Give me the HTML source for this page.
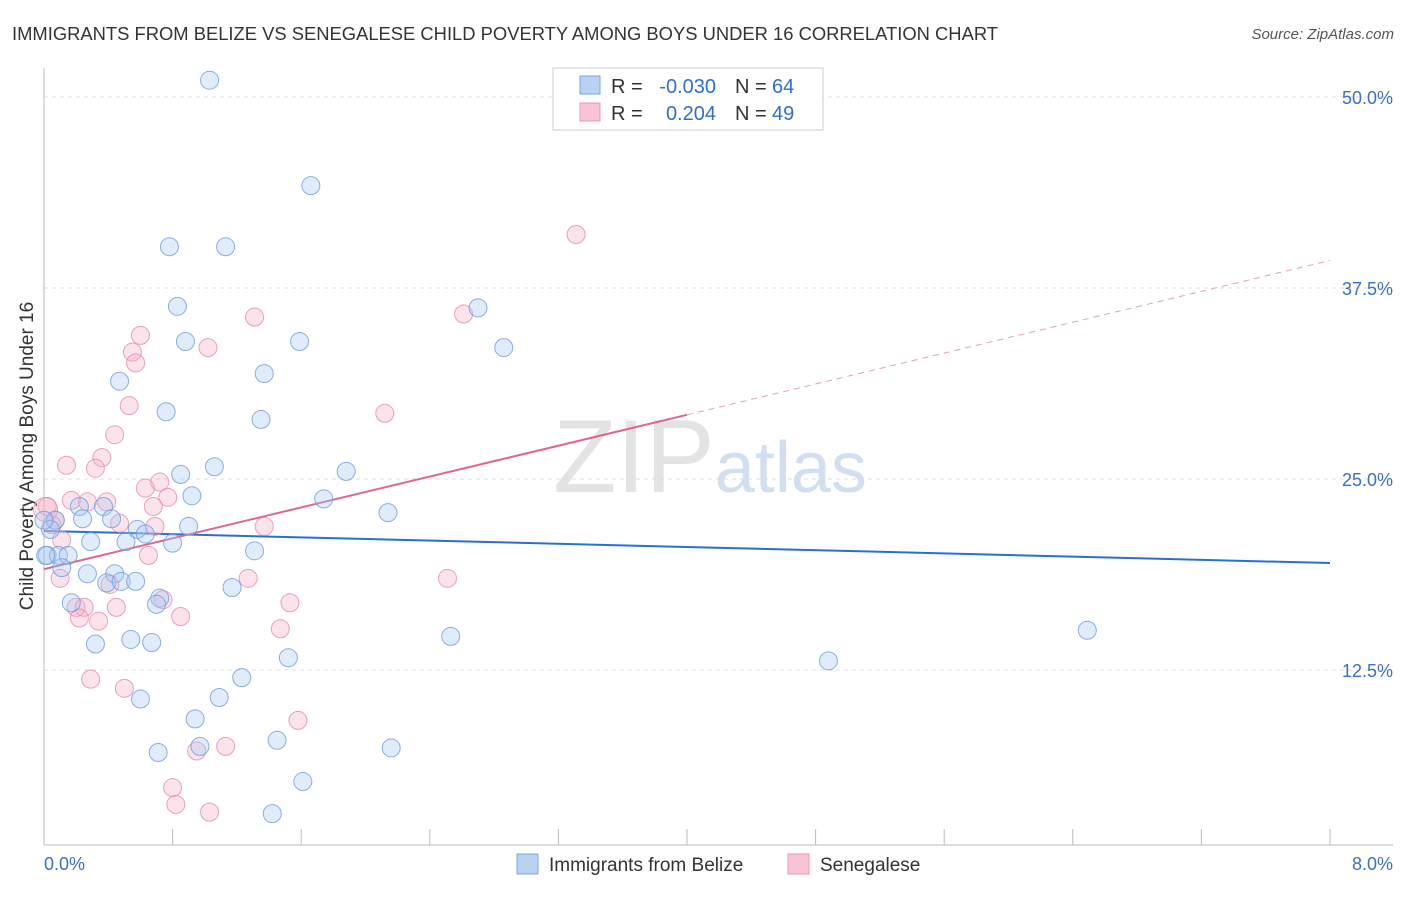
<!DOCTYPE html>
<html><head><meta charset="utf-8"><style>
body{margin:0;background:#fff;font-family:"Liberation Sans",sans-serif;}
svg text{font-family:"Liberation Sans",sans-serif;}
</style></head><body>
<svg id="c" width="1406" height="892" xmlns="http://www.w3.org/2000/svg">
<text x="12" y="40" font-size="18" fill="#333" textLength="986" lengthAdjust="spacingAndGlyphs">IMMIGRANTS FROM BELIZE VS SENEGALESE CHILD POVERTY AMONG BOYS UNDER 16 CORRELATION CHART</text>
<text x="1394" y="39" font-size="15" fill="#555" font-style="italic" text-anchor="end">Source: ZipAtlas.com</text>
<text x="553" y="492" font-size="104" fill="#ddd" font-family="Liberation Serif" opacity="0.8">ZIP<tspan fill="#c8d8ee" font-family="Liberation Sans" font-size="72">atlas</tspan></text>
<text transform="translate(33,456) rotate(-90)" font-size="19" fill="#333" text-anchor="middle">Child Poverty Among Boys Under 16</text>
<g id="grid"></g><g id="ticks"></g><g id="lines"></g><g id="pts"></g>
<g>
<rect x="553" y="68" width="270" height="62" fill="#fff" stroke="#ccc"/>
<rect x="580" y="76" width="20" height="18" fill="#b8d2f4" stroke="#7aa8e0"/>
<rect x="580" y="103" width="20" height="18" fill="#f8c4d4" stroke="#e898b4"/>
<text x="611" y="93" font-size="20" fill="#333">R =</text>
<text x="716" y="93" font-size="20" fill="#2f6fd0" text-anchor="end">-0.030</text>
<text x="735" y="93" font-size="20" fill="#333">N =</text>
<text x="772" y="93" font-size="20" fill="#2f6fd0">64</text>
<text x="611" y="120" font-size="20" fill="#333">R =</text>
<text x="716" y="120" font-size="20" fill="#2f6fd0" text-anchor="end">0.204</text>
<text x="735" y="120" font-size="20" fill="#333">N =</text>
<text x="772" y="120" font-size="20" fill="#2f6fd0">49</text>
</g>
<g>
<rect x="517" y="854" width="21" height="20" fill="#b8d2f4" stroke="#7aa8e0"/>
<text x="549" y="871" font-size="19" fill="#333">Immigrants from Belize</text>
<rect x="788" y="854" width="21" height="20" fill="#f8c4d4" stroke="#e898b4"/>
<text x="820" y="871" font-size="19" fill="#333">Senegalese</text>
</g>
</svg>
<script>
const yTicks=[50,37.5,25,12.5];
const yTickLabels=["50.0%","37.5%","25.0%","12.5%"];
const xTickVals=[0.8,1.6,2.4,3.2,4.0,4.8,5.6,6.4,7.2,8.0];
const blueX=[1.03,1.66,0.78,1.13,0.83,0.88,1.59,2.70,2.86,0.47,1.37,0.76,1.35,0.85,1.06,1.88,0.92,1.74,2.14,0.37,0.22,0.24,0.42,0.07,0.04,0.58,0.63,0.90,0.29,0.51,0.80,1.31,0.02,0.09,0.15,0.11,0.27,0.44,0.39,0.48,0.57,1.17,0.72,0.70,0.17,0.54,0.67,0.32,2.53,6.49,4.88,1.52,1.23,1.09,0.60,0.94,1.45,2.16,0.97,0.71,1.61,1.42,0.01,0.0];
const blueY=[51.1,44.2,40.2,40.2,36.3,34.0,34.0,36.2,33.6,31.4,31.9,29.4,28.9,25.3,25.8,25.5,23.9,23.7,22.8,23.2,23.2,22.4,22.4,22.3,21.7,21.7,21.4,21.9,20.9,20.9,20.8,20.3,20.0,20.0,20.0,19.2,18.8,18.8,18.2,18.3,18.3,17.9,17.2,16.8,16.9,14.5,14.3,14.2,14.7,15.1,13.1,13.3,12.0,10.7,10.6,9.3,7.9,7.4,7.5,7.1,5.2,3.1,20.0,22.3];
const pinkX=[3.31,2.61,1.31,0.60,0.55,0.57,1.02,0.53,2.12,0.44,0.14,0.36,0.32,0.72,0.63,0.17,0.27,0.39,0.77,0.68,0.02,0.07,0.05,0.47,0.69,1.37,0.11,0.65,1.27,2.51,0.10,0.41,0.74,1.53,0.20,0.25,0.45,0.22,0.85,0.34,1.47,0.29,0.50,1.58,1.13,0.95,0.80,0.82,1.03,0.01];
const pinkY=[41.0,35.8,35.6,34.4,33.3,32.6,33.6,29.8,29.3,27.9,25.9,26.4,25.7,24.8,24.4,23.6,23.5,23.5,23.8,23.2,23.2,22.3,22.0,22.1,21.9,21.9,21.0,20.0,18.5,18.5,18.5,18.1,17.1,16.9,16.6,16.6,16.6,15.9,16.0,15.7,15.2,11.9,11.3,9.2,7.5,7.2,4.8,3.7,3.2,23.0];
const blueTrend=[21.6,19.5];
const pinkTrend=[19.1,39.3];
const pinkSolidEnd=4.0;
const NS="http://www.w3.org/2000/svg";
const X=v=>44+v/8*1286, Y=v=>861-v*15.28;
function mk(t,a,p){const e=document.createElementNS(NS,t);for(const k in a)e.setAttribute(k,a[k]);p.appendChild(e);return e;}
const g=document.getElementById('grid'),tk=document.getElementById('ticks'),ln=document.getElementById('lines'),pt=document.getElementById('pts');
yTicks.forEach((v,i)=>{const l=mk('line',{x1:44,x2:1393,y1:Y(v),y2:Y(v),stroke:'#ddd','stroke-dasharray':'4,4'},g);

const t=mk('text',{x:1393,y:Y(v)+7,'font-size':18,fill:'#3a70c8','text-anchor':'end'},tk);t.textContent=yTickLabels[i];
});
let ax=mk('line',{x1:44,x2:44,y1:68,y2:845,stroke:'#bbb'},tk);
ax=mk('line',{x1:44,x2:1393,y1:845,y2:845,stroke:'#bbb'},tk);
xTickVals.forEach(v=>{const l=mk('line',{x1:X(v),x2:X(v),y1:829,y2:845,stroke:'#bbb'},tk);});
let t=mk('text',{x:44,y:870,'font-size':18,fill:'#3a70c8'},tk);t.textContent='0.0%';
t=mk('text',{x:1393,y:870,'font-size':18,fill:'#3a70c8','text-anchor':'end'},tk);t.textContent='8.0%';
function dot(x,y,f,s,r){const c=mk('circle',{cx:X(x),cy:Y(y),r:r,fill:f,'fill-opacity':0.35,stroke:s,'stroke-opacity':0.8,'stroke-width':1},pt);return c;}
pinkX.forEach((x,i)=>{const c=dot(x,pinkY[i],'#f4b0c8','#e88aac',i==pinkX.length-1?12:9);});
blueX.forEach((x,i)=>{const c=dot(x,blueY[i],'#a8c8f0','#6c9ee0',9);});
let l=mk('line',{x1:X(0),y1:Y(blueTrend[0]),x2:X(8),y2:Y(blueTrend[1]),stroke:'#2a6fd6','stroke-width':2},ln);

const pm=pinkTrend[0]+(pinkTrend[1]-pinkTrend[0])*pinkSolidEnd/8;
l=mk('line',{x1:X(0),y1:Y(pinkTrend[0]),x2:X(pinkSolidEnd),y2:Y(pm),stroke:'#e0658f','stroke-width':2},ln);

l=mk('line',{x1:X(pinkSolidEnd),y1:Y(pm),x2:X(8),y2:Y(pinkTrend[1]),stroke:'#e0a0b8','stroke-width':1,'stroke-dasharray':'6,5'},ln);

</script>
</body></html>
